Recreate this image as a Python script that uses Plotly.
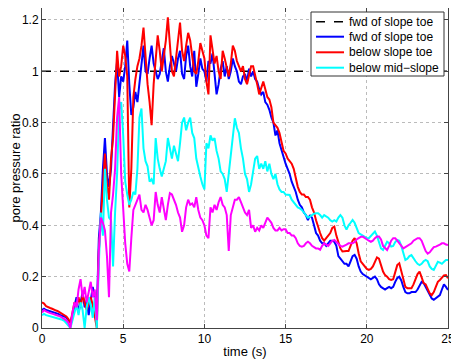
import numpy as np
import plotly.graph_objects as go

# sampling times (s), 0.125 s step
time_s = np.arange(201) * 0.125

fwd_toe = [
    0.07, 0.075, 0.07, 0.068, 0.065, 0.063, 0.06, 0.058,
    0.055, 0.05, 0.048, 0.045, 0.04, 0.03, 0.02, 0.05,
    0.08, 0.12, 0.06, 0.1, 0.14, 0.08, 0.11, 0.05,
    0.1, 0.16, 0.12, 0.06, 0.35, 0.45, 0.62, 0.74,
    0.6, 0.55, 0.62, 0.78, 0.95, 1.04, 0.9, 0.98,
    0.96, 1.02, 1.12, 0.95, 0.83, 0.86, 0.92, 0.88,
    0.95, 1.04, 1.1, 1.0, 0.99, 1.05, 1.1, 1.03,
    1.0, 0.97, 0.99, 1.05, 1.09, 1.0, 0.96, 1.02,
    1.06, 1.03, 1.0, 1.05, 1.08, 0.99, 0.97, 1.06,
    1.1, 1.02, 0.98, 1.08, 0.94, 0.99, 1.05, 1.01,
    1.0, 0.96, 1.04, 1.03, 1.07, 0.99, 0.91, 0.95,
    1.01, 1.04, 0.98, 1.02, 0.97, 1.0, 1.05, 1.02,
    1.0, 0.96, 0.95, 0.98, 0.99, 0.96, 1.01, 0.98,
    1.0, 0.97, 0.96, 0.93, 0.91, 0.92, 0.88, 0.87,
    0.85, 0.82, 0.80, 0.75, 0.77, 0.72, 0.69, 0.66,
    0.64, 0.62, 0.60, 0.57, 0.55, 0.53, 0.50, 0.48,
    0.47, 0.45, 0.44, 0.42, 0.44, 0.43, 0.40, 0.37,
    0.36, 0.34, 0.33, 0.33, 0.32, 0.33, 0.34, 0.34,
    0.336, 0.32, 0.28, 0.27, 0.26, 0.25, 0.25, 0.24,
    0.26, 0.28, 0.285, 0.27, 0.24, 0.22, 0.21, 0.205,
    0.2, 0.195, 0.19, 0.195, 0.2, 0.19, 0.17, 0.16,
    0.155, 0.15, 0.155, 0.16, 0.155, 0.16, 0.18, 0.195,
    0.2, 0.185, 0.16, 0.14, 0.135, 0.135, 0.14, 0.14,
    0.14, 0.15, 0.165, 0.18, 0.175, 0.16, 0.14, 0.125,
    0.115, 0.11, 0.115, 0.12, 0.128, 0.15, 0.17, 0.16,
    0.148,
]

below_toe = [
    0.1, 0.095, 0.085, 0.08, 0.078, 0.075, 0.07, 0.068,
    0.065, 0.06, 0.055, 0.05, 0.045, 0.035, 0.02, 0.06,
    0.1, 0.09, 0.12, 0.08, 0.13, 0.1, 0.07, 0.1,
    0.12, 0.09, 0.05, 0.0, 0.3, 0.45, 0.55, 0.68,
    0.56, 0.5, 0.66, 0.74, 0.91, 1.08, 0.98, 1.02,
    1.1, 1.06, 0.98, 0.47, 0.62, 0.9, 0.97, 1.02,
    1.05, 1.1, 1.17, 1.05, 0.95, 0.88, 0.79, 0.95,
    1.05, 1.14, 1.08, 1.0, 1.06, 1.12, 1.21, 1.1,
    1.0, 0.98, 1.05, 1.1, 1.19, 1.08, 1.04, 1.1,
    1.15, 1.12, 1.05, 1.0, 0.99, 1.04, 1.11, 1.08,
    1.05, 0.96, 0.91, 1.14, 1.08, 1.03, 1.06, 1.0,
    0.97, 1.08, 1.05, 1.02, 0.98, 1.03, 1.1, 1.08,
    1.04, 1.02, 1.0, 1.02, 0.97, 0.95, 0.98, 1.02,
    1.02, 0.99, 0.95, 0.91, 0.94, 0.96, 0.93, 0.9,
    0.89, 0.86, 0.8, 0.79, 0.78, 0.76, 0.72, 0.69,
    0.68, 0.66, 0.65, 0.64, 0.62, 0.58, 0.55, 0.53,
    0.52, 0.52, 0.51, 0.51, 0.5, 0.47, 0.45, 0.42,
    0.39, 0.37, 0.35, 0.34, 0.35, 0.36, 0.37, 0.39,
    0.395, 0.36, 0.33, 0.31, 0.298, 0.30, 0.30, 0.3,
    0.32, 0.34, 0.35, 0.33, 0.29, 0.26, 0.25, 0.24,
    0.23, 0.226, 0.23, 0.24, 0.26, 0.275, 0.27, 0.24,
    0.22, 0.206, 0.2, 0.19, 0.187, 0.19, 0.22, 0.245,
    0.252, 0.22, 0.18, 0.16, 0.155, 0.155, 0.155, 0.17,
    0.19, 0.21, 0.22, 0.2, 0.175, 0.17, 0.15, 0.135,
    0.128, 0.14, 0.16, 0.18, 0.187, 0.195, 0.205, 0.206,
    0.194,
]

below_mid = [
    0.05, 0.055, 0.05, 0.048, 0.046, 0.044, 0.042, 0.04,
    0.038, 0.035, 0.032, 0.028, 0.02, 0.01, 0.0, 0.03,
    0.06, 0.09, 0.05, 0.1, 0.07, 0.0, 0.08, 0.12,
    0.09, 0.04, 0.12, 0.0, 0.25, 0.45, 0.36, 0.62,
    0.5, 0.43, 0.42, 0.24, 0.45, 0.6, 0.85, 0.88,
    0.75, 0.57, 0.52, 0.48, 0.5, 0.53, 0.52, 0.62,
    0.82, 0.855, 0.7, 0.65, 0.63, 0.57, 0.58, 0.56,
    0.74, 0.66, 0.62, 0.59, 0.62, 0.65, 0.74, 0.7,
    0.66, 0.71, 0.68, 0.65, 0.72, 0.8, 0.82, 0.77,
    0.8, 0.82, 0.76, 0.74, 0.66, 0.62, 0.59, 0.56,
    0.54, 0.72, 0.7, 0.75, 0.73, 0.74, 0.69, 0.66,
    0.61, 0.6, 0.58, 0.53, 0.6, 0.66, 0.75, 0.817,
    0.78, 0.76, 0.7, 0.66, 0.6, 0.58, 0.53, 0.56,
    0.61, 0.66, 0.67, 0.62, 0.64, 0.62, 0.65, 0.61,
    0.64, 0.6, 0.58, 0.6, 0.56, 0.54, 0.53, 0.53,
    0.52, 0.52, 0.518, 0.5, 0.49, 0.48, 0.47, 0.466,
    0.46, 0.45, 0.44, 0.43, 0.434, 0.44, 0.445, 0.447,
    0.447, 0.44, 0.43, 0.44, 0.434, 0.43, 0.42, 0.415,
    0.42, 0.415, 0.43, 0.44, 0.43, 0.40, 0.383, 0.4,
    0.41, 0.421, 0.41, 0.39, 0.37, 0.365, 0.36, 0.355,
    0.35, 0.35, 0.36, 0.37, 0.376, 0.36, 0.33, 0.31,
    0.304, 0.32, 0.336, 0.33, 0.317, 0.32, 0.335, 0.343,
    0.34, 0.32, 0.29, 0.265, 0.27, 0.28, 0.284, 0.27,
    0.26, 0.25, 0.245, 0.25, 0.26, 0.265, 0.26, 0.24,
    0.23, 0.226, 0.24, 0.258, 0.255, 0.25, 0.258, 0.265,
    0.265,
]

magenta_series = [
    0.06, 0.07, 0.065, 0.06, 0.058, 0.056, 0.054, 0.05,
    0.048, 0.045, 0.04, 0.035, 0.03, 0.02, 0.0, 0.06,
    0.1, 0.08, 0.15, 0.19, 0.12, 0.16, 0.1, 0.14,
    0.18, 0.12, 0.15, 0.03, 0.3, 0.43, 0.41, 0.38,
    0.28, 0.12, 0.45, 0.52, 0.62, 0.82, 0.9, 0.6,
    0.45, 0.33, 0.25, 0.22, 0.35, 0.46, 0.48, 0.5,
    0.52, 0.46, 0.45, 0.48, 0.46, 0.43, 0.4, 0.42,
    0.53, 0.48, 0.45, 0.51, 0.47, 0.42, 0.48, 0.525,
    0.52, 0.5, 0.48, 0.45, 0.43, 0.375, 0.4, 0.47,
    0.5, 0.48, 0.485, 0.47, 0.51, 0.46, 0.43, 0.42,
    0.4, 0.36, 0.35, 0.47, 0.45, 0.48, 0.46, 0.49,
    0.51, 0.48, 0.47, 0.44, 0.3, 0.44, 0.47, 0.5,
    0.5, 0.51, 0.49, 0.47, 0.45, 0.44, 0.46, 0.39,
    0.4, 0.375, 0.39, 0.38, 0.4, 0.39, 0.41, 0.43,
    0.42, 0.41, 0.39, 0.38, 0.38, 0.39, 0.38, 0.385,
    0.385, 0.37, 0.37, 0.36, 0.36, 0.35, 0.33, 0.32,
    0.317, 0.32, 0.33, 0.336, 0.33, 0.32, 0.315, 0.31,
    0.31, 0.305, 0.32, 0.33, 0.325, 0.32, 0.33, 0.34,
    0.343, 0.335, 0.33, 0.32, 0.317, 0.32, 0.325, 0.33,
    0.33, 0.33, 0.335, 0.345, 0.35, 0.355, 0.356, 0.35,
    0.345, 0.34, 0.336, 0.34, 0.35, 0.356, 0.356, 0.345,
    0.32, 0.31, 0.304, 0.32, 0.34, 0.35, 0.35, 0.34,
    0.33, 0.32, 0.31, 0.315, 0.32, 0.323, 0.33, 0.34,
    0.345, 0.35, 0.35, 0.34, 0.32, 0.3, 0.29, 0.295,
    0.305, 0.315, 0.317, 0.32, 0.325, 0.33, 0.33, 0.325,
    0.323,
]

ref_x = [0, 25]
ref_y = [1, 1]

legend_labels = ["fwd of slope toe", "fwd of slope toe", "below slope toe", "below mid\u2212slope"]

x_ticks = [0, 5, 10, 15, 20, 25]
y_ticks = [0, 0.2, 0.4, 0.6, 0.8, 1, 1.2]
y_tick_labels = ["0", "0.2", "0.4", "0.6", "0.8", "1", "1.2"]

FONT = "Liberation Sans, Arial, Helvetica, sans-serif"

# styles, one per legend entry
styles = [
    dict(color="black", width=1.5, dash="dash"),
    dict(color="#0000ff", width=2),
    dict(color="#ff0000", width=2),
    dict(color="#00ffff", width=2),
]
magenta_style = dict(color="#ff00ff", width=2)

fig = go.Figure()
fig.add_trace(go.Scatter(x=ref_x, y=ref_y, mode="lines", name=legend_labels[0],
                         line=styles[0], showlegend=False))
fig.add_trace(go.Scatter(x=time_s, y=fwd_toe, mode="lines", name=legend_labels[1],
                         line=styles[1], showlegend=False))
fig.add_trace(go.Scatter(x=time_s, y=below_toe, mode="lines", name=legend_labels[2],
                         line=styles[2], showlegend=False))
fig.add_trace(go.Scatter(x=time_s, y=below_mid, mode="lines", name=legend_labels[3],
                         line=styles[3], showlegend=False))
fig.add_trace(go.Scatter(x=time_s, y=magenta_series, mode="lines", name="magenta",
                         line=magenta_style, showlegend=False))

# compact MATLAB-style legend box (plot-area fractions)
PW, PH = 406.0, 320.0
def fx(px):
    return (px - 34) / PW
def fy(py):
    return (PH - py) / PH

shapes = [dict(type="rect", xref="paper", yref="paper",
               x0=fx(303), x1=fx(436), y0=fy(68), y1=fy(4),
               fillcolor="white", line=dict(color="#333333", width=1), layer="above")]
annotations = []
row_y = [13.7, 28.7, 44.3, 59.7]
for lab, st, ry in zip(legend_labels, styles, row_y):
    shapes.append(dict(type="line", xref="paper", yref="paper",
                       x0=fx(308), x1=fx(336), y0=fy(ry), y1=fy(ry),
                       line=st, layer="above"))
    annotations.append(dict(text=lab, xref="paper", yref="paper",
                            x=fx(339), y=fy(ry), xanchor="left", yanchor="middle",
                            showarrow=False, font=dict(family=FONT, size=12, color="black")))

axis_common = dict(
    showline=True, mirror="ticks", linecolor="#444444", linewidth=1,
    ticks="inside", ticklen=4, tickcolor="#444444",
    showgrid=True, gridcolor="#bbbbbb", griddash="dot", gridwidth=1,
    zeroline=False, tickfont=dict(family=FONT, size=12, color="black"),
)

fig.update_layout(
    width=451, height=356,
    margin=dict(l=34, r=11, t=0, b=36),
    paper_bgcolor="white", plot_bgcolor="white",
    font=dict(family=FONT, size=12, color="black"),
    xaxis=dict(range=[0, 25], tickvals=x_ticks, ticktext=[str(v) for v in x_ticks],
               title=dict(text="time (s)", font=dict(family=FONT, size=13), standoff=1),
               **axis_common),
    yaxis=dict(range=[0, 1.2467], tickvals=y_ticks, ticktext=y_tick_labels,
               title=dict(text="pore pressure ratio", font=dict(family=FONT, size=13), standoff=4),
               **axis_common),
    shapes=shapes,
    annotations=annotations,
    showlegend=False,
)

fig.write_html("out.html")
